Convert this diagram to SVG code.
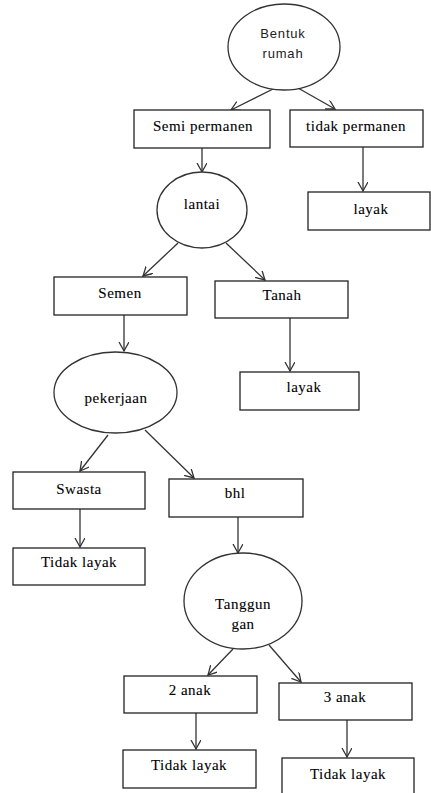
<svg xmlns="http://www.w3.org/2000/svg" width="431" height="793" viewBox="0 0 431 793">
<style>
.box{fill:#fff;stroke:#222;stroke-width:1.3}
.ell{fill:#fff;stroke:#333;stroke-width:1.3}
.t{font-family:"Liberation Serif","Times New Roman",serif;font-size:15px;fill:#000;stroke:#000;stroke-width:0.1;text-anchor:middle;letter-spacing:0.5px}
.s{font-family:"Liberation Sans",Arial,sans-serif;font-size:13px;fill:#222;text-anchor:middle;letter-spacing:0.8px}
.c{stroke:#333;stroke-width:1.3;fill:none;marker-end:url(#ah)}
</style>
<defs>
<marker id="ah" markerUnits="userSpaceOnUse" markerWidth="12" markerHeight="12" refX="9" refY="5" orient="auto">
<path d="M0,0 L9,5 L0,10" fill="none" stroke="#333" stroke-width="1.3"/>
</marker>
</defs>
<rect width="431" height="793" fill="#fff"/>
<g id="connectors">
<line class="c" x1="275" y1="88" x2="231" y2="110"/>
<line class="c" x1="298" y1="88" x2="335" y2="109"/>
<line class="c" x1="363" y1="147" x2="363" y2="191"/>
<line class="c" x1="202" y1="148" x2="202" y2="172"/>
<line class="c" x1="178" y1="243" x2="143" y2="276"/>
<line class="c" x1="226" y1="243" x2="265" y2="280"/>
<line class="c" x1="124" y1="315" x2="124" y2="351"/>
<line class="c" x1="290" y1="318" x2="290" y2="371"/>
<line class="c" x1="108" y1="435" x2="80" y2="471"/>
<line class="c" x1="145" y1="430" x2="194" y2="478"/>
<line class="c" x1="80" y1="509" x2="80" y2="547"/>
<line class="c" x1="238" y1="517" x2="238" y2="553"/>
<line class="c" x1="233" y1="649" x2="208" y2="675"/>
<line class="c" x1="269" y1="645" x2="301" y2="682"/>
<line class="c" x1="196" y1="713" x2="196" y2="749"/>
<line class="c" x1="347" y1="720" x2="347" y2="757"/>
</g>
<g id="bentuk-rumah">
<ellipse class="ell" cx="284" cy="47" rx="56" ry="43"/>
<text class="s" x="283" y="38">Bentuk</text>
<text class="s" x="283" y="58">rumah</text>
</g>
<g id="semi-permanen">
<rect class="box" x="134" y="110" width="136" height="38"/>
<text class="t" x="203" y="131">Semi permanen</text>
</g>
<g id="tidak-permanen">
<rect class="box" x="290" y="110" width="133" height="37"/>
<text class="t" x="356" y="131">tidak permanen</text>
</g>
<g id="layak-1">
<rect class="box" x="308" y="192" width="122" height="38"/>
<text class="t" x="371" y="214">layak</text>
</g>
<g id="lantai">
<ellipse class="ell" cx="202" cy="210" rx="45" ry="38"/>
<text class="t" x="202" y="209">lantai</text>
</g>
<g id="semen">
<rect class="box" x="54" y="277" width="133" height="38"/>
<text class="t" x="120" y="298">Semen</text>
</g>
<g id="tanah">
<rect class="box" x="215" y="281" width="133" height="37"/>
<text class="t" x="282" y="300">Tanah</text>
</g>
<g id="layak-2">
<rect class="box" x="240" y="372" width="119" height="38"/>
<text class="t" x="304" y="392">layak</text>
</g>
<g id="pekerjaan">
<ellipse class="ell" cx="115.5" cy="392.5" rx="61.5" ry="40.5"/>
<text class="t" x="116" y="403">pekerjaan</text>
</g>
<g id="swasta">
<rect class="box" x="13" y="472" width="132" height="37"/>
<text class="t" x="79" y="494">Swasta</text>
</g>
<g id="bhl">
<rect class="box" x="169" y="479" width="134" height="38"/>
<text class="t" x="235" y="498">bhl</text>
</g>
<g id="tidak-layak-1">
<rect class="box" x="13" y="548" width="132" height="37"/>
<text class="t" x="79" y="567">Tidak layak</text>
</g>
<g id="tanggungan">
<ellipse class="ell" cx="243" cy="601" rx="59" ry="48"/>
<text class="t" x="243" y="609">Tanggun</text>
<text class="t" x="243" y="629">gan</text>
</g>
<g id="dua-anak">
<rect class="box" x="124" y="676" width="133" height="37"/>
<text class="t" x="190" y="695">2 anak</text>
</g>
<g id="tiga-anak">
<rect class="box" x="279" y="683" width="133" height="37"/>
<text class="t" x="345" y="702">3 anak</text>
</g>
<g id="tidak-layak-2">
<rect class="box" x="123" y="750" width="133" height="38"/>
<text class="t" x="189" y="770">Tidak layak</text>
</g>
<g id="tidak-layak-3">
<rect class="box" x="282" y="758" width="132" height="40"/>
<text class="t" x="348" y="779">Tidak layak</text>
</g>
</svg>
